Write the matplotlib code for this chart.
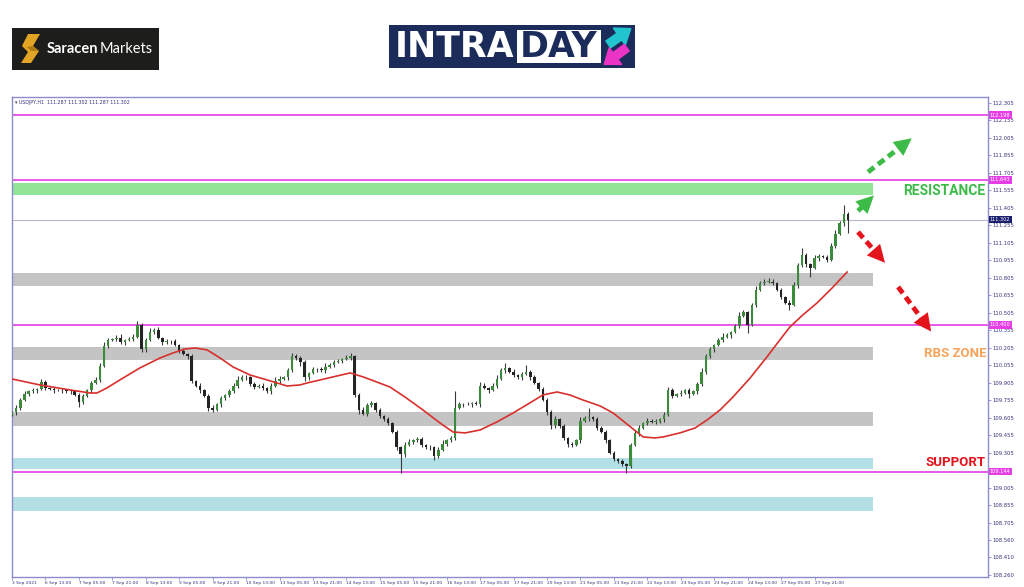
import matplotlib
matplotlib.use("Agg")
from matplotlib import pyplot as plt
from matplotlib.patches import Rectangle, Polygon, FancyArrowPatch

# USDJPY H1 chart, one candle = 2 hours, x = candle index
closes = [
    109.65, 109.69, 109.76, 109.81, 109.83, 109.84, 109.85, 109.91, 109.86, 109.85,
    109.84, 109.84, 109.84, 109.83, 109.83, 109.80, 109.74, 109.79, 109.84, 109.90,
    109.93, 110.05, 110.22, 110.27, 110.28, 110.29, 110.25, 110.27, 110.28, 110.30,
    110.40, 110.19, 110.27, 110.34, 110.36, 110.29, 110.25, 110.26, 110.26, 110.23,
    110.18, 110.15, 110.13, 109.92, 109.88, 109.84, 109.79, 109.69, 109.67, 109.72,
    109.77, 109.80, 109.83, 109.88, 109.93, 109.95, 109.95, 109.89, 109.87, 109.88,
    109.86, 109.83, 109.88, 109.92, 109.94, 109.95, 110.01, 110.13, 110.12, 110.08,
    109.95, 109.99, 110.02, 110.02, 110.01, 110.04, 110.06, 110.08, 110.09, 110.11,
    110.12, 110.13, 109.80, 109.67, 109.64, 109.71, 109.73, 109.67, 109.62, 109.59,
    109.56, 109.48, 109.35, 109.29, 109.37, 109.40, 109.41, 109.42, 109.37, 109.35,
    109.35, 109.28, 109.33, 109.38, 109.41, 109.43, 109.69, 109.72, 109.72, 109.72,
    109.73, 109.72, 109.88, 109.86, 109.84, 109.88, 109.94, 110.01, 110.03, 110.00,
    109.97, 109.95, 109.98, 110.00, 109.95, 109.90, 109.85, 109.76, 109.65, 109.54,
    109.59, 109.53, 109.43, 109.38, 109.37, 109.41, 109.58, 109.60, 109.61, 109.59,
    109.52, 109.48, 109.41, 109.30, 109.25, 109.23, 109.21, 109.19, 109.37, 109.47,
    109.52, 109.56, 109.58, 109.57, 109.57, 109.59, 109.63, 109.84, 109.79, 109.81,
    109.82, 109.84, 109.81, 109.83, 109.89, 110.00, 110.13, 110.19, 110.23, 110.27,
    110.30, 110.31, 110.34, 110.39, 110.48, 110.51, 110.40, 110.57, 110.70, 110.76,
    110.77, 110.77, 110.76, 110.70, 110.64, 110.59, 110.57, 110.74, 110.91, 111.00,
    110.92, 110.89, 110.97, 110.99, 110.98, 110.96, 111.08, 111.18, 111.27, 111.35,
    111.302,
]
first_open = 109.63

# wick lengths beyond the body, in hundredths of a yen
upper_wick = [
    1, 2, 1, 2, 1, 2, 1, 3, 2, 1, 2, 1, 2, 1, 2, 1, 2, 2, 1, 2,
    2, 2, 3, 2, 1, 2, 3, 1, 2, 2, 3, 2, 2, 3, 1, 2, 1, 2, 1, 2,
    1, 2, 1, 2, 1, 2, 1, 2, 2, 1, 2, 1, 2, 2, 3, 2, 2, 1, 2, 1,
    2, 1, 2, 3, 2, 1, 2, 3, 2, 1, 2, 1, 2, 1, 2, 3, 1, 2, 2, 1,
    2, 3, 1, 2, 3, 2, 2, 1, 2, 1, 2, 1, 2, 1, 3, 2, 1, 2, 2, 1,
    2, 1, 2, 3, 1, 2, 14, 2, 1, 2, 1, 2, 3, 2, 1, 2, 3, 2, 4, 1,
    2, 1, 2, 6, 1, 2, 1, 2, 1, 2, 3, 1, 2, 1, 2, 1, 3, 2, 8, 1,
    2, 1, 2, 1, 2, 1, 2, 1, 2, 3, 2, 1, 2, 1, 2, 1, 2, 3, 2, 1,
    2, 1, 2, 1, 2, 3, 2, 2, 1, 2, 3, 2, 1, 2, 3, 2, 1, 2, 3, 2,
    2, 3, 2, 1, 2, 1, 2, 3, 2, 6, 2, 1, 3, 2, 1, 2, 2, 3, 2, 8,
    2,
]
lower_wick = [
    1, 2, 2, 1, 2, 1, 2, 1, 2, 1, 2, 1, 2, 1, 2, 1, 4, 2, 1, 2,
    1, 2, 1, 2, 1, 2, 1, 2, 1, 2, 1, 2, 2, 1, 2, 1, 2, 1, 2, 1,
    2, 1, 2, 2, 1, 2, 1, 3, 2, 1, 2, 1, 2, 1, 2, 1, 2, 1, 2, 1,
    2, 1, 2, 1, 2, 1, 2, 1, 2, 3, 3, 2, 1, 2, 1, 2, 1, 2, 1, 2,
    1, 2, 2, 3, 1, 2, 1, 2, 2, 1, 2, 1, 2, 16, 2, 1, 2, 1, 2, 1,
    2, 4, 2, 1, 2, 1, 2, 1, 2, 1, 2, 1, 2, 1, 2, 1, 2, 1, 2, 1,
    2, 1, 2, 1, 2, 1, 2, 1, 2, 3, 2, 1, 2, 3, 2, 1, 2, 1, 2, 1,
    2, 1, 2, 1, 2, 1, 2, 6, 2, 1, 2, 1, 2, 1, 2, 1, 2, 1, 2, 1,
    2, 1, 4, 1, 2, 1, 2, 1, 2, 1, 2, 1, 2, 1, 2, 1, 7, 1, 2, 1,
    2, 1, 2, 1, 2, 1, 4, 1, 2, 1, 2, 8, 1, 2, 1, 2, 1, 2, 1, 2,
    11,
]

# moving average (candle index, price)
ma_idx = [0, 6.7, 13.9, 18.7, 20.3, 22.7, 25.8, 30.6, 35.4, 38.5, 41.4, 43.8, 46.7,
          49.8, 52.9, 56.9, 61.0, 65.8, 68.9, 70.6, 76.8, 80.9, 84.0, 90.4, 94.0,
          98.3, 102.4, 105.5, 108.4, 112.0, 116.0, 119.9, 123.9, 127.0, 130.4, 133.5,
          136.6, 140.7, 143.8, 147.4, 151.0, 153.8, 155.7, 159.8, 163.4, 166.3, 169.4,
          172.5, 176.6, 180.6, 183.7, 186.1, 189.2, 192.6, 196.2, 199.8]
ma_val = [109.937, 109.886, 109.843, 109.817, 109.817, 109.860, 109.929, 110.032,
          110.117, 110.160, 110.194, 110.203, 110.186, 110.117, 110.040, 109.972,
          109.929, 109.877, 109.886, 109.903, 109.955, 109.989, 109.955, 109.869,
          109.783, 109.672, 109.560, 109.483, 109.475, 109.500, 109.569, 109.646,
          109.732, 109.800, 109.826, 109.800, 109.757, 109.706, 109.646, 109.543,
          109.440, 109.432, 109.440, 109.475, 109.517, 109.586, 109.672, 109.783,
          109.946, 110.126, 110.272, 110.383, 110.486, 110.589, 110.717, 110.854]

# zones (low, high)
resistance_zone = (111.514, 111.617)
gray_zones = [(110.734, 110.846), (110.101, 110.212), (109.535, 109.655)]
blue_zones = [(109.166, 109.260), (108.806, 108.926)]
magenta_levels = [112.198, 111.643, 110.400, 109.144]
magenta_tags = ["112.198", "111.643", "110.400", "109.144"]
last_price = 111.302

price_ticks = [112.305, 112.155, 112.005, 111.855, 111.705, 111.555, 111.405, 111.255,
               111.105, 110.955, 110.805, 110.655, 110.505, 110.355, 110.205, 110.055,
               109.905, 109.755, 109.605, 109.455, 109.305, 109.005, 108.855, 108.705,
               108.560, 108.410, 108.260]
time_labels = ["3 Sep 2021", "6 Sep 13:00", "7 Sep 05:00", "7 Sep 21:00", "8 Sep 13:00",
               "9 Sep 05:00", "9 Sep 21:00", "10 Sep 13:00", "13 Sep 05:00", "13 Sep 21:00",
               "14 Sep 13:00", "15 Sep 05:00", "15 Sep 21:00", "16 Sep 13:00", "17 Sep 05:00",
               "17 Sep 21:00", "20 Sep 13:00", "21 Sep 05:00", "21 Sep 21:00", "22 Sep 13:00",
               "23 Sep 05:00", "23 Sep 21:00", "24 Sep 13:00", "27 Sep 05:00", "27 Sep 21:00"]


def fx(px):
    return px / 1024


def fy(py):
    return 1 - py / 587


def main():
    fig = plt.figure(figsize=(10.24, 5.87), dpi=100)
    fig.patch.set_facecolor("white")
    ax = fig.add_axes([fx(12), fy(577), fx(976), 480 / 587])

    frame = "#8c8cce"
    zone_end = 206

    # zones
    ax.fill_between([0, zone_end], *resistance_zone, color="#92e596", lw=0, zorder=1)
    for lo, hi in gray_zones:
        ax.fill_between([0, zone_end], lo, hi, color="#c4c4c4", lw=0, zorder=1)
    for lo, hi in blue_zones:
        ax.fill_between([0, zone_end], lo, hi, color="#b3dfe6", lw=0, zorder=1)

    for lvl in magenta_levels:
        ax.axhline(lvl, color="#e53ee5", lw=1.2, zorder=2)
    ax.axhline(last_price, color="#b8b8c8", lw=0.8, zorder=2)

    # candles
    opens = [first_open] + closes[:-1]
    xs = list(range(len(closes)))
    for i, (o, c) in enumerate(zip(opens, closes)):
        hi = max(o, c) + upper_wick[i] / 100
        lo = min(o, c) - lower_wick[i] / 100
        ax.vlines(i, lo, hi, color="#3a3a3a", lw=0.8, zorder=3)
    bodies = [max(abs(c - o), 0.004) for o, c in zip(opens, closes)]
    bottoms = [min(o, c) for o, c in zip(opens, closes)]
    cols = ["#3c8a3c" if c >= o else "#242424" for o, c in zip(opens, closes)]
    ax.bar(xs, bodies, bottom=bottoms, width=0.6, color=cols, lw=0, zorder=4)

    ax.plot(ma_idx, ma_val, color="#d8302c", lw=1.2, zorder=5)

    # arrows
    def dashed_arrow(x0, y0, x1, y1, col):
        fr = 0.78
        xm = x0 + (x1 - x0) * fr
        ym = y0 + (y1 - y0) * fr
        ax.plot([x0, xm], [y0, ym], color=col, lw=3.5, dashes=(1.6, 1.0),
                solid_capstyle="butt", zorder=6, clip_on=False)
        ax.annotate("", xy=(x1, y1), xytext=(xm, ym),
                    arrowprops=dict(arrowstyle="-|>,head_width=0.45,head_length=0.9",
                                    color=col, lw=0, mutation_scale=14),
                    zorder=6, annotation_clip=False)

    green = "#3dbb48"
    red = "#e3141c"
    dashed_arrow(202.4, 111.377, 206.2, 111.510, green)
    dashed_arrow(204.8, 111.711, 215.8, 112.015, green)
    dashed_arrow(202.4, 111.197, 209.3, 110.915, red)
    dashed_arrow(212.0, 110.726, 220.3, 110.325, red)

    lab_font = ["Roboto", "DejaVu Sans"]
    ax.text(223.0, 111.55, "RESISTANCE", color=green, fontsize=10, fontweight="bold",
            family=lab_font, ha="center", va="center", zorder=7)
    ax.text(225.6, 110.152, "RBS ZONE", color="#f6a55e", fontsize=9.5, fontweight="bold",
            family=lab_font, ha="center", va="center", zorder=7)
    ax.text(225.8, 109.218, "SUPPORT", color=red, fontsize=9.5, fontweight="bold",
            family=lab_font, ha="center", va="center", zorder=7)

    ax.set_xlim(0, 233.5)
    ax.set_ylim(108.240, 112.354)

    for s in ax.spines.values():
        s.set_color(frame)
        s.set_linewidth(1.0)

    ax.yaxis.tick_right()
    ax.set_yticks(price_ticks)
    ax.set_yticklabels([f"{p:.3f}" for p in price_ticks])
    ax.tick_params(axis="y", direction="out", length=2, width=0.6, color=frame,
                   labelsize=3.8, labelcolor="#33337a", pad=1.5)

    ax.set_xticks([8 * k for k in range(len(time_labels))])
    ax.set_xticklabels(time_labels, ha="left")
    ax.tick_params(axis="x", direction="out", length=2, width=0.6, color=frame,
                   labelsize=3.2, labelcolor="#33337a", pad=0.8)

    # price tags on the right scale
    ytr = ax.get_yaxis_transform()
    for lvl, tag in zip(magenta_levels, magenta_tags):
        ax.text(1.002, lvl, tag, transform=ytr, fontsize=3.6, color="white", ha="left",
                va="center", zorder=8, clip_on=False,
                bbox=dict(boxstyle="square,pad=0.25", fc="#e53ee5", ec="none"))
    ax.text(1.002, last_price, f"{last_price:.3f}", transform=ytr, fontsize=3.6,
            color="white", ha="left", va="center", zorder=8, clip_on=False,
            bbox=dict(boxstyle="square,pad=0.25", fc="#1a1f6e", ec="none"))

    ax.text(0.003, 0.994, "\u25be USDJPY,H1  111.287 111.302 111.287 111.302",
            transform=ax.transAxes, fontsize=3.4, color="#33337a", va="top", ha="left")

    # SaracenMarkets logo
    fig.patches.append(Rectangle((fx(12), fy(70)), fx(147), 42 / 587, transform=fig.transFigure,
                                 fc="#1d1d1b", ec="none"))
    s_shape = [(28, 34), (40, 34), (33, 46), (39, 51), (31, 63), (21, 63), (28, 52), (22, 46)]
    fig.patches.append(Polygon([(fx(a), fy(b)) for a, b in s_shape], closed=True,
                               transform=fig.transFigure, fc="#e2a424", ec="none"))
    fig.patches.append(Polygon([(fx(a), fy(b)) for a, b in [(33, 46), (39, 51), (31, 51), (27, 47)]],
                               closed=True, transform=fig.transFigure, fc="#b07b14", ec="none"))
    fig.text(fx(47), fy(49), "Saracen", color="white", fontsize=10.5, fontweight="bold",
             family="Lato", va="center", ha="left")
    fig.text(fx(100), fy(49), "Markets", color="white", fontsize=10.5,
             family="Lato", va="center", ha="left")

    # INTRADAY logo
    fig.patches.append(Rectangle((fx(389), fy(68)), fx(246), 43 / 587, transform=fig.transFigure,
                                 fc="#1b2c5a", ec="none"))
    fig.patches.append(Rectangle((fx(517), fy(63)), fx(84), 33 / 587, transform=fig.transFigure,
                                 fc="white", ec="none"))
    fig.text(fx(455), fy(47), "INTRA", color="white", fontsize=25, fontweight="bold",
             family="DejaVu Sans", va="center", ha="center")
    fig.text(fx(559), fy(47), "DAY", color="#1b2c5a", fontsize=25, fontweight="bold",
             family="DejaVu Sans", va="center", ha="center")
    fig.patches.append(FancyArrowPatch((fx(606), fy(46)), (fx(633), fy(27)),
                                       transform=fig.transFigure, color="#22c4cf",
                                       arrowstyle="simple,head_width=1.5,head_length=1.0,tail_width=0.6",
                                       mutation_scale=10))
    fig.patches.append(FancyArrowPatch((fx(629), fy(46)), (fx(602), fy(66)),
                                       transform=fig.transFigure, color="#ea34c6",
                                       arrowstyle="simple,head_width=1.5,head_length=1.0,tail_width=0.6",
                                       mutation_scale=10))

    fig.savefig("out.png", dpi=100)


if __name__ == "__main__":
    main()
